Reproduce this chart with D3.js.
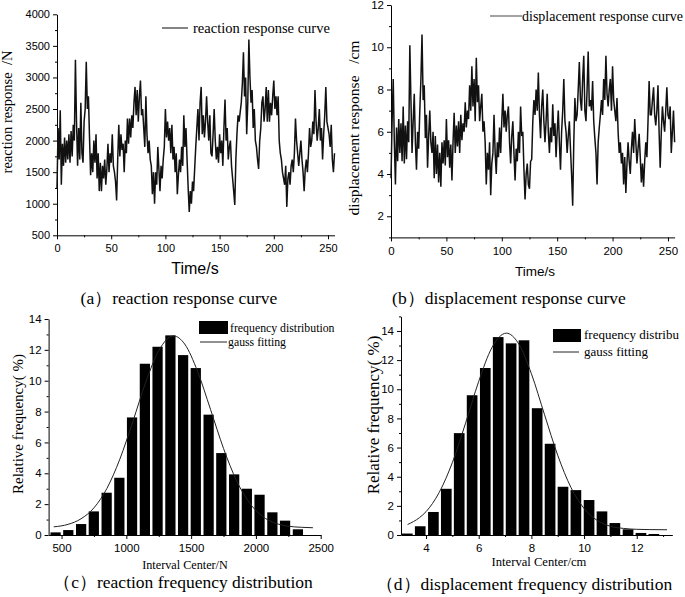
<!DOCTYPE html>
<html><head><meta charset="utf-8">
<script src="https://cdn.jsdelivr.net/npm/d3@7/dist/d3.min.js"></script>
<style>body{margin:0;background:#fff}svg{display:block}</style>
</head><body>
<svg id="c" width="685" height="597"></svg>
<script>
// (a) reaction response (N), one value per second, t = 0..256
const reactionValues = [1250,2200,1700,2480,1300,1950,1600,2050,1650,2000,1700,2100,1650,2150,1750,2250,2000,3280,2300,1600,
2200,1700,2600,1800,1650,2300,2500,3250,2500,2700,2050,1450,1800,1500,2000,1650,2100,1400,1800,1200,
1650,1200,1600,1400,1700,1300,1550,1950,1500,1800,1650,2100,1600,1500,1350,1050,1700,2250,1750,2100,
1850,1950,1500,2000,1800,2350,1950,2350,2050,2400,2200,2600,2850,2400,2800,2300,2700,2950,2400,2500,
2200,1900,2700,2100,1800,2000,1700,1600,1150,1500,1000,1500,1300,1900,1550,1200,1600,1400,1700,1900,
2500,2050,2300,2000,2200,1800,2250,1700,1900,1500,1800,1150,1450,1700,1500,1900,1600,2400,1900,2200,
1700,1250,870,1200,1000,1350,1200,1550,1900,2200,2500,2000,2600,2850,2100,2400,2050,2300,2700,2300,
2000,2400,1800,1750,2100,2500,2000,1700,1900,1650,2100,1800,2000,1600,2200,2650,2000,2200,1700,1900,
2000,1600,1400,1200,980,1700,2100,2400,2300,2450,2600,2900,3400,2700,3000,2100,2600,3600,3000,2600,
2800,2200,2500,2000,1900,1700,1550,2000,2200,2600,2700,2300,2500,2850,2300,2800,2300,2600,2400,2700,
2950,2500,2700,2400,2700,2000,1800,1700,1500,1400,1300,1600,950,1400,1500,1300,1600,1700,1500,1800,
2350,2000,1800,1600,1800,2000,1700,1500,1200,1550,1700,1500,1800,2200,1900,2000,2300,2100,2800,2300,
2000,2200,2500,2000,2200,1700,2100,2400,2850,2300,2200,2100,1900,2250,1700,1500,1800];
// (b) displacement response (cm), t = 0..256
const displacementValues = [3.8,6.5,8.5,5.5,3.5,6.2,4.6,6.6,5.0,6.4,4.6,7.2,4.5,6.3,4.7,6.5,5.5,10.1,7.5,5.0,
6.5,7.8,5.5,4.2,6.0,5.2,7.0,8.5,10.6,7.5,8.2,5.7,6.8,4.3,5.8,7.0,5.5,5.0,6.0,3.8,
5.8,4.0,5.4,3.6,5.0,3.4,5.5,4.5,5.6,4.4,6.6,4.8,5.6,4.3,5.4,3.7,5.5,6.9,5.0,6.3,
5.3,6.5,5.0,6.8,5.6,6.4,6.0,7.4,6.2,7.0,6.6,8.2,7.0,9.1,7.2,8.5,6.5,9.5,7.4,8.2,
6.5,7.2,7.8,6.0,6.5,5.5,3.5,5.0,4.2,5.5,3.0,4.5,5.0,6.8,5.0,4.0,5.5,4.8,6.2,5.0,
6.5,7.8,6.2,7.0,6.0,6.8,7.2,5.5,4.5,5.8,6.5,5.0,3.7,5.2,4.6,6.0,5.0,7.2,5.8,6.0,
4.2,2.8,4.0,4.5,3.5,3.3,4.6,4.7,6.5,7.5,6.8,8.0,7.0,8.8,6.8,5.7,7.2,8.0,6.5,5.5,
6.5,7.8,6.0,5.0,6.2,5.5,7.3,5.8,6.4,4.8,6.0,7.0,5.5,4.2,6.0,7.0,8.5,6.5,6.0,5.0,
5.8,6.5,5.2,4.0,2.5,5.5,7.6,6.5,6.8,8.0,9.3,7.5,7.0,8.5,9.6,7.0,6.5,8.0,9.8,7.2,
7.5,7.0,8.4,6.5,5.7,5.0,3.5,5.5,6.2,6.8,7.5,6.8,8.5,7.5,9.6,7.8,7.2,8.0,8.5,7.0,
9.1,7.5,7.0,6.5,7.6,6.0,5.0,5.5,4.5,5.0,3.5,4.8,3.1,4.5,5.5,4.6,4.0,5.2,6.0,5.0,
6.6,5.5,4.5,5.2,5.9,4.8,3.6,4.5,3.4,4.6,5.5,4.8,6.5,8.4,6.8,6.8,7.5,8.1,6.8,6.3,
7.0,8.2,6.0,4.3,6.0,7.2,6.5,6.0,7.0,8.1,6.8,6.6,7.2,5.0,6.0,7.0,5.5];
// (c) reaction frequency distribution
const reactionBinCenters = [454,552,651,749,848,946,1044,1143,1241,1340,1438,1536,1635,1733,1832,1930,2028,2127,2225,2324];
const reactionFreq = [0.17,0.32,0.71,1.53,2.74,3.71,7.62,11.1,12.2,12.94,11.66,10.82,7.8,5.31,3.93,3.0,2.61,1.47,0.93,0.37];
const reactionGaussX = [440,550,650,750,850,950,1050,1150,1250,1365,1450,1550,1650,1750,1850,1950,2050,2150,2250,2350,2440];
const reactionGaussY = [0.53,0.69,1.05,1.76,3.02,4.92,7.35,9.91,11.95,12.9,12.38,10.6,8.13,5.61,3.53,2.09,1.21,0.77,0.57,0.5,0.47];
// (d) displacement frequency distribution
const dispBinCenters = [3.29,3.78,4.28,4.77,5.26,5.75,6.25,6.74,7.23,7.72,8.22,8.71,9.20,9.69,10.19,10.68,11.17,11.67,12.16,12.65];
const dispFreq = [0.1,0.6,1.58,3.17,6.99,9.59,11.46,13.58,13.15,13.36,8.7,6.26,3.31,3.08,2.4,1.62,0.82,0.39,0.14,0.07];
const dispGaussX = [3.3,3.75,4.0,4.5,5.0,5.5,6.0,6.5,7.05,7.5,8.0,8.5,9.0,9.5,10.0,10.5,11.0,11.5,12.0,12.5,13.15];
const dispGaussY = [0.72,1.19,1.6,2.92,4.97,7.67,10.54,12.85,13.85,13.17,11.07,8.25,5.47,3.27,1.82,1.0,0.6,0.45,0.39,0.37,0.36];

const SANS = "'Liberation Sans', Arial, sans-serif";
const SERIF = "'Liberation Serif', 'Times New Roman', serif";
const svg = d3.select("#c");

function axes(g, x, y, xMajor, xMinor, yMajor, yMinor, fs, xfmt) {
  const ax = g.append("g").attr("transform", `translate(0,${y.range()[0]})`)
    .call(d3.axisBottom(x).tickValues(xMajor).tickSize(4).tickSizeOuter(0).tickFormat(xfmt || d3.format("d")));
  g.append("g").attr("transform", `translate(0,${y.range()[0]})`)
    .call(d3.axisBottom(x).tickValues(xMinor).tickSize(2).tickSizeOuter(0).tickFormat(""))
    .select(".domain").remove();
  const ay = g.append("g").attr("transform", `translate(${x.range()[0]},0)`)
    .call(d3.axisLeft(y).tickValues(yMajor).tickSize(4).tickSizeOuter(0).tickFormat(d3.format("d")));
  g.append("g").attr("transform", `translate(${x.range()[0]},0)`)
    .call(d3.axisLeft(y).tickValues(yMinor).tickSize(2).tickSizeOuter(0).tickFormat(""))
    .select(".domain").remove();
  g.selectAll(".tick text").attr("font-family", SANS).attr("font-size", fs).attr("fill", "#000");
  g.selectAll(".domain, .tick line").attr("stroke", "#000").attr("stroke-width", 1);
  ax.selectAll(".tick text").attr("dy", "0.9em");
  return {ax, ay};
}

function rotLabel(text, x, y, fs) {
  svg.append("text").attr("transform", `translate(${x},${y}) rotate(-90)`)
    .attr("text-anchor", "middle").attr("font-family", SERIF).attr("font-size", fs)
    .attr("xml:space", "preserve").text(text);
}
function label(text, x, y, fs, fam, anchor) {
  svg.append("text").attr("x", x).attr("y", y).attr("text-anchor", anchor || "middle")
    .attr("font-family", fam).attr("font-size", fs).attr("xml:space", "preserve").text(text);
}

// ---------- (a) ----------
{
  const g = svg.append("g");
  const x = d3.scaleLinear().domain([0, 256]).range([57, 334.5]);
  const y = d3.scaleLinear().domain([500, 4000]).range([235.3, 14.3]);
  axes(g, x, y, [0,50,100,150,200,250], [25,75,125,175,225],
       [500,1000,1500,2000,2500,3000,3500,4000], [750,1250,1750,2250,2750,3250,3750], "11px");
  g.append("path").datum(reactionValues)
    .attr("d", d3.line().x((d,i) => x(i)).y(d => y(d)))
    .attr("fill", "none").attr("stroke", "#111").attr("stroke-width", 1.5).attr("stroke-linejoin", "miter");
  g.append("line").attr("x1", 162).attr("x2", 188).attr("y1", 28).attr("y2", 28).attr("stroke", "#333").attr("stroke-width", 1.2);
  label("reaction response curve", 193, 33, "14.5px", SERIF, "start");
  rotLabel("reaction response  /N", 12, 112, "14.5px");
  label("Time/s", 195, 274, "16px", SANS);
  label("(a\uFF09reaction response curve", 179, 304, "17.5px", SERIF);
}
// ---------- (b) ----------
{
  const g = svg.append("g");
  const x = d3.scaleLinear().domain([0, 256]).range([391, 674.6]);
  const y = d3.scaleLinear().domain([1, 12]).range([237.4, 5]);
  axes(g, x, y, [0,50,100,150,200,250], [25,75,125,175,225],
       [2,4,6,8,10,12], [1,3,5,7,9,11], "11.5px");
  g.append("path").datum(displacementValues)
    .attr("d", d3.line().x((d,i) => x(i)).y(d => y(d)))
    .attr("fill", "none").attr("stroke", "#111").attr("stroke-width", 1.5).attr("stroke-linejoin", "miter");
  g.append("line").attr("x1", 490).attr("x2", 522).attr("y1", 16).attr("y2", 16).attr("stroke", "#666").attr("stroke-width", 1.2);
  label("displacement response curve", 522, 21, "14px", SERIF, "start");
  rotLabel("displacement response   /cm", 359, 128, "15.5px");
  label("Time/s", 535, 276, "13.5px", SANS);
  label("(b\uFF09displacement response curve", 509, 304, "17.5px", SERIF);
}
// ---------- (c) ----------
{
  const g = svg.append("g");
  const x = d3.scaleLinear().domain([400, 2500]).range([48.6, 320.7]);
  const y = d3.scaleLinear().domain([0, 14]).range([535, 319]);
  const bw = 79;
  g.selectAll("rect.bar").data(reactionBinCenters).join("rect").attr("class","bar")
    .attr("x", d => x(d - bw/2)).attr("width", d => x(d + bw/2) - x(d - bw/2))
    .attr("y", (d,i) => y(reactionFreq[i])).attr("height", (d,i) => y(0) - y(reactionFreq[i]))
    .attr("fill", "#000");
  g.append("path").datum(reactionGaussX)
    .attr("d", d3.line().curve(d3.curveMonotoneX).x(d => x(d)).y((d,i) => y(reactionGaussY[i])))
    .attr("fill", "none").attr("stroke", "#222").attr("stroke-width", 1);
  axes(g, x, y, [500,1000,1500,2000,2500], [750,1250,1750,2250],
       [0,2,4,6,8,10,12,14], [1,3,5,7,9,11,13], "11.5px");
  g.append("rect").attr("x", 199).attr("y", 321).attr("width", 29).attr("height", 13).attr("fill", "#000");
  label("frequency distribution", 230, 332, "11.8px", SERIF, "start");
  g.append("line").attr("x1", 200).attr("x2", 227).attr("y1", 342).attr("y2", 342).attr("stroke", "#222");
  label("gauss fitting", 228, 346, "11.8px", SERIF, "start");
  rotLabel("Relative frequency( %)", 23, 424, "15px");
  label("Interval Center/N", 185, 569, "12.2px", SERIF);
  label("\uFF08c\uFF09reaction frequency distribution", 183, 588, "17.5px", SERIF);
}
// ---------- (d) ----------
{
  const g = svg.append("g");
  const x = d3.scaleLinear().domain([3.05, 13.35]).range([401, 672.3]);
  const y = d3.scaleLinear().domain([0, 15]).range([535, 316.4]);
  const bw = 0.405;
  g.selectAll("rect.bar").data(dispBinCenters).join("rect").attr("class","bar")
    .attr("x", d => x(d - bw/2)).attr("width", d => x(d + bw/2) - x(d - bw/2))
    .attr("y", (d,i) => y(dispFreq[i])).attr("height", (d,i) => y(0) - y(dispFreq[i]))
    .attr("fill", "#000");
  g.append("path").datum(dispGaussX)
    .attr("d", d3.line().curve(d3.curveMonotoneX).x(d => x(d)).y((d,i) => y(dispGaussY[i])))
    .attr("fill", "none").attr("stroke", "#222").attr("stroke-width", 1);
  axes(g, x, y, [4,6,8,10,12], [5,7,9,11,13],
       [0,2,4,6,8,10,12,14], [1,3,5,7,9,11,13,15], "11.5px");
  g.append("rect").attr("x", 553).attr("y", 329).attr("width", 28).attr("height", 13).attr("fill", "#000");
  label("frequency distribu", 584, 339, "13px", SERIF, "start");
  g.append("line").attr("x1", 553).attr("x2", 579).attr("y1", 352).attr("y2", 352).attr("stroke", "#222");
  label("gauss fitting", 584, 356, "13px", SERIF, "start");
  rotLabel("Relative frequency( %)", 379, 415, "17px");
  label("Interval Center/cm", 539, 566, "12.6px", SERIF);
  label("\uFF08d\uFF09displacement frequency distribution", 524, 590, "17.5px", SERIF);
}
</script>
</body></html>
